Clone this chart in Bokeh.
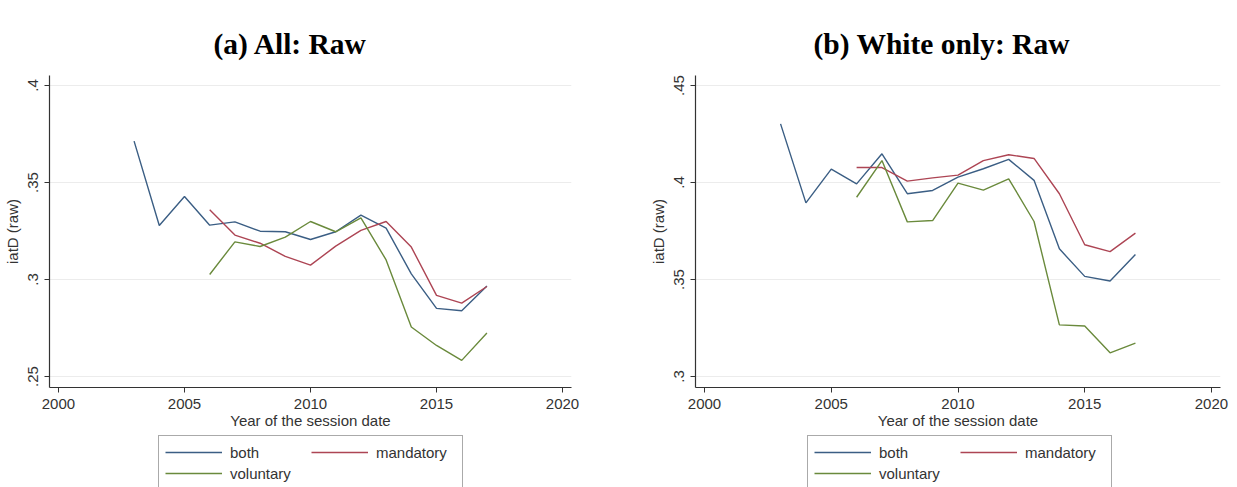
from bokeh.plotting import figure
from bokeh.layouts import row, column
from bokeh.models import FixedTicker, Range1d, Legend, LegendItem, Title
from bokeh.embed import file_html
from bokeh.resources import INLINE

# ---------------- data ----------------
years_both = [2003, 2004, 2005, 2006, 2007, 2008, 2009, 2010, 2011, 2012, 2013, 2014, 2015, 2016, 2017]
years_sub = [2006, 2007, 2008, 2009, 2010, 2011, 2012, 2013, 2014, 2015, 2016, 2017]

all_both = [0.3713, 0.3278, 0.3428, 0.3280, 0.3297, 0.3249, 0.3246, 0.3206, 0.3246, 0.3332, 0.3265,
            0.3029, 0.2851, 0.2839, 0.2967]
all_mandatory = [0.3359, 0.3229, 0.3187, 0.3119, 0.3074, 0.3172, 0.3253, 0.3299, 0.3167, 0.2918,
                 0.2878, 0.2964]
all_voluntary = [0.3026, 0.3194, 0.3170, 0.3218, 0.3299, 0.3246, 0.3318, 0.3101, 0.2755, 0.2660,
                 0.2583, 0.2724]

white_both = [0.4302, 0.3895, 0.4069, 0.3993, 0.4148, 0.3942, 0.3959, 0.4028, 0.4071, 0.4119, 0.4011,
              0.3658, 0.3516, 0.3492, 0.3629]
white_mandatory = [0.4077, 0.4077, 0.4007, 0.4024, 0.4038, 0.4113, 0.4143, 0.4124, 0.3942, 0.3679,
                   0.3644, 0.3739]
white_voluntary = [0.3924, 0.4113, 0.3797, 0.3804, 0.3997, 0.3961, 0.4019, 0.3799, 0.3266, 0.3260,
                   0.3122, 0.3172]

x_ticks = [2000, 2005, 2010, 2015, 2020]
y_ticks_all = [0.25, 0.3, 0.35, 0.4]
y_labels_all = [".25", ".3", ".35", ".4"]
y_ticks_white = [0.3, 0.35, 0.4, 0.45]
y_labels_white = [".3", ".35", ".4", ".45"]

series_names = ["both", "mandatory", "voluntary"]
series_colors = ["#3b5e84", "#ad4554", "#6a8a3c"]

FONT = "Liberation Sans"
TXT = "#333333"


def panel(title, title_offset, width, border_left, border_right, y_lo, y_hi,
          y_ticks, y_labels, both, mand, vol, legend_x):
    p = figure(width=width, height=435, output_backend="svg", toolbar_location=None,
               min_border_left=border_left, min_border_right=border_right,
               min_border_top=75, min_border_bottom=48,
               x_range=Range1d(1999.644, 2020.356), y_range=Range1d(y_lo, y_hi))
    p.outline_line_color = None
    p.background_fill_color = "white"
    p.border_fill_color = "white"
    p.xgrid.visible = False
    p.ygrid.grid_line_color = "#ececec"
    p.ygrid.grid_line_width = 1
    p.ygrid.ticker = FixedTicker(ticks=y_ticks)

    p.xaxis.ticker = FixedTicker(ticks=x_ticks)
    p.yaxis.ticker = FixedTicker(ticks=y_ticks)
    p.yaxis.major_label_overrides = {t: l for t, l in zip(y_ticks, y_labels)}
    p.yaxis.major_label_orientation = "vertical"
    p.xaxis.axis_label = "Year of the session date"
    p.yaxis.axis_label = "iatD (raw)"
    for ax in (p.xaxis[0], p.yaxis[0]):
        ax.axis_line_color = TXT
        ax.axis_line_width = 1.2
        ax.major_tick_line_color = TXT
        ax.major_tick_out = 5
        ax.major_tick_in = 0
        ax.minor_tick_line_color = None
        ax.major_label_text_font = FONT
        ax.major_label_text_font_size = "15px"
        ax.major_label_text_color = TXT
        ax.axis_label_text_font = FONT
        ax.axis_label_text_font_size = "15px"
        ax.axis_label_text_font_style = "normal"
        ax.axis_label_text_color = TXT
    p.xaxis.major_label_standoff = 6
    p.xaxis.axis_label_standoff = 0
    p.yaxis.major_label_standoff = 6
    p.yaxis.axis_label_standoff = 5

    p.line(years_both, both, line_color=series_colors[0], line_width=1.4)
    p.line(years_sub, mand, line_color=series_colors[1], line_width=1.4)
    p.line(years_sub, vol, line_color=series_colors[2], line_width=1.4)

    t = Title(text=title, align="left", offset=title_offset,
              text_font="Liberation Serif", text_font_size="29.5px",
              text_font_style="bold", text_color="black", standoff=32)
    p.add_layout(t, "above")

    # legend strip below the chart (series drawn off-range; only the legend shows)
    lf = figure(width=width, height=52, output_backend="svg", toolbar_location=None,
                min_border=0, x_range=Range1d(0, 1), y_range=Range1d(0, 1),
                x_axis_type=None, y_axis_type=None)
    lf.outline_line_color = None
    lf.xgrid.visible = False
    lf.ygrid.visible = False
    rs = [lf.line(years_both, both, line_color=series_colors[0], line_width=1.4),
          lf.line(years_sub, mand, line_color=series_colors[1], line_width=1.4),
          lf.line(years_sub, vol, line_color=series_colors[2], line_width=1.4)]
    legend = Legend(items=[LegendItem(label=n, renderers=[r]) for n, r in zip(series_names, rs)],
                    location=(legend_x, -3), orientation="horizontal", ncols=2,
                    border_line_color="#555555", border_line_width=1,
                    padding=6, spacing=1, margin=0,
                    label_height=20, glyph_height=20, glyph_width=57,
                    label_width=80, label_standoff=8,
                    label_text_font=FONT, label_text_font_size="15px",
                    label_text_color=TXT, background_fill_alpha=0)
    lf.add_layout(legend, "center")
    return column(p, lf, spacing=0)


p1 = panel("(a) All: Raw", 164, 618, 48, 47, 0.24433, 0.40515,
           y_ticks_all, y_labels_all, all_both, all_mandatory, all_voluntary, 109)
p2 = panel("(b) White only: Raw", 118, 619, 77, 17, 0.29433, 0.45515,
           y_ticks_white, y_labels_white, white_both, white_mandatory, white_voluntary, 112)

layout = row(p1, p2, spacing=0)
open("out.html", "w").write(file_html(layout, INLINE))
